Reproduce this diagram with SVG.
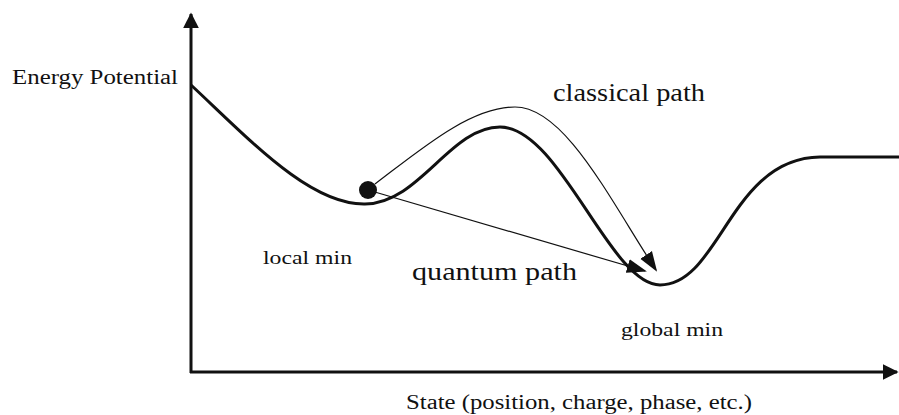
<svg xmlns="http://www.w3.org/2000/svg" width="899" height="415" viewBox="0 0 899 415">
<defs>
<style>
text{font-family:"Liberation Serif","DejaVu Serif",serif;fill:#111}
.ax{stroke:#111;stroke-width:3;fill:none}
.curve{stroke:#111;stroke-width:3;fill:none}
.thin{stroke:#111;stroke-width:1.2;fill:none}
</style>
<marker id="axh" viewBox="0 0 10 10" refX="9" refY="5" markerWidth="16" markerHeight="16" markerUnits="userSpaceOnUse" orient="auto"><path d="M0,0 L10,5 L0,10 Z" fill="#111"/></marker>
<marker id="ah" viewBox="0 0 10 10" refX="9" refY="5" markerWidth="20" markerHeight="20" markerUnits="userSpaceOnUse" orient="auto"><path d="M0,1.5 L10,5 L0,8.5 Z" fill="#111"/></marker>
</defs>
<g id="axes">
<line class="ax" x1="191" y1="373" x2="191" y2="14" marker-end="url(#axh)"/>
<line class="ax" x1="190" y1="372" x2="897" y2="372" marker-end="url(#axh)"/>
</g>
<g id="landscape">
<path class="curve" d="M191,85 C250,140 310,205 365,204 C420,203 450,127 500,127 C560,127 610,285 660,285 C720,285 730,158 820,157 L899,157"/>
</g>
<g id="connectors">
<path class="thin" d="M375,184 C420,150 470,107 515,107 C565,107 610,200 656,270" marker-end="url(#ah)"/>
<line class="thin" x1="368" y1="190" x2="645" y2="271" marker-end="url(#ah)"/>
</g>
<g id="particle"><circle cx="368" cy="190" r="9" fill="#111"/></g>
<g id="labels">
<text x="12" y="84" font-size="20" textLength="166" lengthAdjust="spacingAndGlyphs">Energy Potential</text>
<text x="553" y="101" font-size="25" textLength="152" lengthAdjust="spacingAndGlyphs">classical path</text>
<text x="412" y="280" font-size="25" textLength="165" lengthAdjust="spacingAndGlyphs">quantum path</text>
<text x="263" y="264" font-size="19" textLength="89" lengthAdjust="spacingAndGlyphs">local min</text>
<text x="621" y="336" font-size="19" textLength="102" lengthAdjust="spacingAndGlyphs">global min</text>
<text x="406" y="409" font-size="20" textLength="346" lengthAdjust="spacingAndGlyphs">State (position, charge, phase, etc.)</text>
</g>
</svg>
